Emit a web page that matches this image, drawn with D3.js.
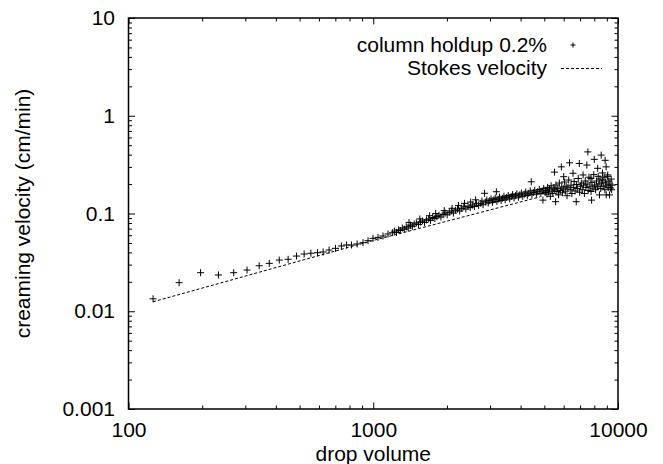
<!DOCTYPE html>
<meta charset="utf-8">
<script src="https://d3js.org/d3.v7.min.js"></script>
<style>
body { margin: 0; background: #fff; }
svg { font-family: "Liberation Sans", Arial, sans-serif; }
</style>
<svg id="chart" width="663" height="464"></svg>
<script>
// measured drops: volume vs creaming velocity (cm/min)
const dropVolume = [
  126, 161, 197, 233, 269, 305, 342, 376, 413, 449, 486, 522, 556, 592, 624, 660, 701, 741, 778, 815,
  859, 908, 952, 998, 1046, 1096, 1149, 1200,
  1220, 1245, 1270, 1290, 1315, 1340, 1365, 1390, 1420, 1445, 1470, 1500, 1530, 1560, 1590, 1620,
  1650, 1685, 1715, 1750, 1785, 1820, 1855, 1890, 1930, 1965, 2005, 2045, 2085, 2125, 2170, 2210,
  2255, 2300, 2345, 2390, 2440, 2490, 2540, 2590, 2640, 2695,
  1400, 1550, 1700, 1800, 1950, 2100, 2230, 2360, 2500, 2620,
  2750, 2780, 2810, 2850, 2880, 2910, 2950, 2990, 3030, 3070, 3110, 3150, 3184, 3200, 3240, 3280,
  3330, 3370, 3420, 3460, 3510, 3560, 3610, 3660, 3710, 3760, 3810, 3860, 3920, 3970, 4030, 4080,
  4140, 4200, 4260, 4320, 4380, 4423, 4450, 4510, 4570, 4640, 4700, 4770, 4840, 4900, 4935, 4970, 5040,
  5080, 5120, 5160, 5200, 5250, 5290, 5330, 5380, 5420, 5470, 5500, 5520, 5560, 5580, 5630, 5670,
  5720, 5760, 5810, 5870, 5890, 5930, 5980, 6000, 6040, 6090, 6140, 6190, 6240, 6290, 6340, 6380,
  6430, 6480, 6550, 6570, 6620, 6680, 6750, 6760, 6820, 6880, 6950, 6970, 7020, 7080, 7140, 7200,
  7230, 7290, 7350, 7400, 7460, 7480, 7530, 7550, 7610, 7680, 7750, 7760, 7800, 7830, 7900, 7960,
  8000, 8030, 8100, 8170, 8230, 8260, 8300, 8360, 8400, 8440, 8500, 8535, 8570, 8640, 8660, 8700,
  8770, 8840, 8860, 8900, 8946, 8950, 8990, 9050, 9080, 9120, 9180, 9230, 9270, 9330, 9380, 9420, 9460
];
const creamVelocity = [
  0.0134, 0.0196, 0.0248, 0.0235, 0.0248, 0.0264, 0.0292, 0.0309, 0.0334, 0.034, 0.0367, 0.0385, 0.0392, 0.0397, 0.0404, 0.0423, 0.044, 0.0465, 0.0476, 0.0476,
  0.0488, 0.0503, 0.0527, 0.0557, 0.057, 0.0589, 0.0617, 0.0636,
  0.066, 0.064, 0.068, 0.067, 0.071, 0.069, 0.073, 0.071, 0.076, 0.074, 0.078, 0.080, 0.077, 0.082, 0.084, 0.081,
  0.086, 0.088, 0.085, 0.091, 0.089, 0.093, 0.096, 0.092, 0.098, 0.101, 0.097, 0.103, 0.106, 0.101, 0.108, 0.111,
  0.106, 0.113, 0.117, 0.111, 0.119, 0.115, 0.122, 0.118, 0.126, 0.121,
  0.081, 0.088, 0.095, 0.100, 0.107, 0.113, 0.121, 0.127, 0.131, 0.138,
  0.127, 0.134, 0.123, 0.161, 0.131, 0.137, 0.128, 0.135, 0.141, 0.130, 0.138, 0.144, 0.167, 0.133, 0.140, 0.147,
  0.136, 0.143, 0.150, 0.138, 0.146, 0.153, 0.141, 0.149, 0.156, 0.144, 0.152, 0.159, 0.147, 0.155, 0.162, 0.150,
  0.158, 0.166, 0.153, 0.161, 0.170, 0.211, 0.156, 0.164, 0.173, 0.158, 0.167, 0.176, 0.160, 0.170, 0.137, 0.180, 0.164,
  0.172, 0.158, 0.185, 0.166, 0.178, 0.150, 0.192, 0.170, 0.160, 0.183, 0.265, 0.175, 0.132, 0.196, 0.168, 0.180,
  0.155, 0.205, 0.172, 0.300, 0.187, 0.163, 0.178, 0.238, 0.210, 0.169, 0.190, 0.152, 0.183, 0.220, 0.330, 0.175,
  0.195, 0.160, 0.258, 0.185, 0.212, 0.170, 0.132, 0.198, 0.180, 0.228, 0.325, 0.165, 0.190, 0.205, 0.175, 0.248,
  0.195, 0.160, 0.215, 0.185, 0.313, 0.200, 0.427, 0.172, 0.235, 0.190, 0.228, 0.168, 0.137, 0.208, 0.182, 0.250,
  0.358, 0.195, 0.175, 0.215, 0.188, 0.290, 0.240, 0.200, 0.155, 0.225, 0.180, 0.396, 0.205, 0.260, 0.220, 0.190,
  0.235, 0.175, 0.350, 0.210, 0.300, 0.155, 0.195, 0.240, 0.248, 0.185, 0.215, 0.155, 0.200, 0.182, 0.225, 0.175, 0.195
];
// Stokes velocity line
const stokesVolume = [126, 1000, 4800];
const stokesVelocity = [0.0125, 0.053, 0.148];

const xTicks = [100, 1000, 10000];
const yTicks = [0.001, 0.01, 0.1, 1, 10];
const yTickLabels = ["0.001", "0.01", "0.1", "1", "10"];
const legendLabels = ["column holdup 0.2%", "Stokes velocity"];

const svg = d3.select("#chart");
const plotL = 128.5, plotR = 618, plotT = 18, plotB = 409;
const fontSize = 21;

const x = d3.scaleLog().domain([100, 10000]).range([plotL, plotR]);
const y = d3.scaleLog().domain([0.001, 10]).range([plotB, plotT]);

// minor ticks 2..9 in every decade
function minors(lo, hi) {
  const out = [];
  for (let d = lo; d < hi * 0.999; d *= 10)
    for (let k = 2; k <= 9; k++) out.push(d * k);
  return out;
}
const xMinor = minors(100, 10000);
const yMinor = minors(0.001, 10);

const fmtY = d => yTickLabels[yTicks.indexOf(d)];

// bottom / top
svg.append("g").attr("transform", `translate(0,${plotB})`)
  .call(d3.axisBottom(x).tickValues(xTicks).tickFormat(d3.format("d")).tickSize(-6.5).tickPadding(13));
svg.append("g").attr("transform", `translate(0,${plotB})`)
  .call(d3.axisBottom(x).tickValues(xMinor).tickFormat("").tickSize(-3.5));
svg.append("g").attr("transform", `translate(0,${plotT})`)
  .call(d3.axisTop(x).tickValues(xTicks).tickFormat("").tickSize(-6.5));
svg.append("g").attr("transform", `translate(0,${plotT})`)
  .call(d3.axisTop(x).tickValues(xMinor).tickFormat("").tickSize(-3.5));
// left / right
svg.append("g").attr("transform", `translate(${plotL},0)`)
  .call(d3.axisLeft(y).tickValues(yTicks).tickFormat(fmtY).tickSize(-6.5).tickPadding(13.5));
svg.append("g").attr("transform", `translate(${plotL},0)`)
  .call(d3.axisLeft(y).tickValues(yMinor).tickFormat("").tickSize(-3.5));
svg.append("g").attr("transform", `translate(${plotR},0)`)
  .call(d3.axisRight(y).tickValues(yTicks).tickFormat("").tickSize(-6.5));
svg.append("g").attr("transform", `translate(${plotR},0)`)
  .call(d3.axisRight(y).tickValues(yMinor).tickFormat("").tickSize(-3.5));

svg.selectAll(".domain").remove();
svg.selectAll(".tick line").attr("stroke", "#000").attr("stroke-width", 1);
svg.selectAll(".tick text")
  .attr("fill", "#000")
  .style("font-family", "'Liberation Sans', Arial, sans-serif")
  .style("font-size", fontSize + "px");

// frame
svg.append("rect")
  .attr("x", plotL).attr("y", plotT)
  .attr("width", plotR - plotL).attr("height", plotB - plotT)
  .attr("fill", "none").attr("stroke", "#000").attr("stroke-width", 1.5);

// axis titles
svg.append("text")
  .attr("x", (plotL + plotR) / 2).attr("y", 461)
  .attr("text-anchor", "middle").attr("font-size", fontSize)
  .text("drop volume");
svg.append("text")
  .attr("transform", `translate(30,${(plotT + plotB) / 2}) rotate(-90)`)
  .attr("text-anchor", "middle").attr("font-size", fontSize)
  .text("creaming velocity (cm/min)");

// stokes line
const line = d3.line().x(d => x(d[0])).y(d => y(d[1]));
svg.append("path")
  .datum(d3.zip(stokesVolume, stokesVelocity))
  .attr("d", line)
  .attr("fill", "none").attr("stroke", "#000").attr("stroke-width", 1)
  .attr("stroke-dasharray", "3,2");

// data points as "+"
const pts = d3.zip(dropVolume, creamVelocity);
const r = 3.5;
svg.append("g").selectAll("path")
  .data(pts).enter().append("path")
  .attr("d", d => {
    const px = x(d[0]), py = y(d[1]);
    return `M${px - r},${py}H${px + r}M${px},${py - r}V${py + r}`;
  })
  .attr("stroke", "#000").attr("stroke-width", 1).attr("fill", "none");

// legend
const legend = svg.append("g");
legend.selectAll("text")
  .data(legendLabels).enter().append("text")
  .attr("x", 547).attr("y", (d, i) => 52 + i * 23)
  .attr("text-anchor", "end").attr("font-size", fontSize)
  .text(d => d);
legend.append("path")
  .attr("d", `M${573 - 2.5},45H${573 + 2.5}M573,${45 - 2.5}V${45 + 2.5}`)
  .attr("stroke", "#000").attr("stroke-width", 1);
legend.append("line")
  .attr("x1", 561).attr("x2", 602).attr("y1", 68.5).attr("y2", 68.5)
  .attr("stroke", "#000").attr("stroke-width", 1).attr("stroke-dasharray", "3,2");
</script>
